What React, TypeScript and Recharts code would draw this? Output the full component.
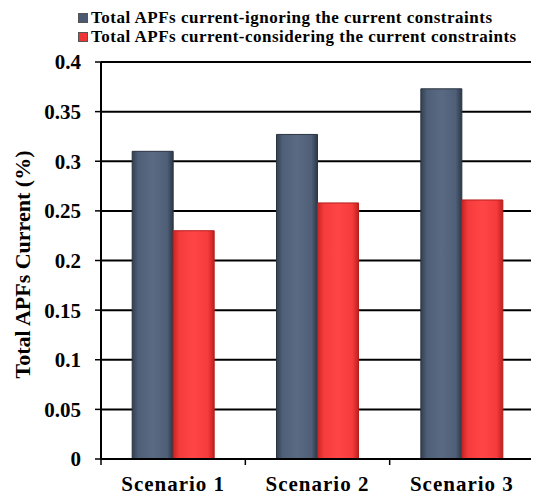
import { BarChart, Bar, XAxis, YAxis, CartesianGrid, Legend } from 'recharts';

const scenarios = ['Scenario 1', 'Scenario 2', 'Scenario 3'];
const ignoringValues = [0.31, 0.327, 0.373];
const consideringValues = [0.23, 0.258, 0.261];
const yTicks = [0, 0.05, 0.1, 0.15, 0.2, 0.25, 0.3, 0.35, 0.4];

const seriesNames = {
  ignoring: 'Total APFs current-ignoring the current constraints',
  considering: 'Total APFs current-considering the current constraints',
};

const data = scenarios.map((name, i) => ({
  name,
  ignoring: ignoringValues[i],
  considering: consideringValues[i],
}));

const FONT = '"Liberation Serif", "Times New Roman", serif';
const WIDTH = 531;
const HEIGHT = 488;
const MARGIN = { top: 0, right: 5, bottom: 7, left: 0 };
const Y_AXIS_WIDTH = 93;
const PLOT_WIDTH = WIDTH - MARGIN.left - MARGIN.right - Y_AXIS_WIDTH;
const BAND = PLOT_WIDTH / scenarios.length;

// x ticks sit on the category boundaries, not the centres
const ScenarioTick = (props: any) => {
  const { x, y, payload, index } = props;
  const axisY = y - 17;
  return (
    <g>
      <line x1={x - BAND / 2} x2={x - BAND / 2} y1={axisY} y2={axisY + 6} stroke="#000" strokeWidth={1.5} />
      {index === scenarios.length - 1 && (
        <line x1={x + BAND / 2} x2={x + BAND / 2} y1={axisY} y2={axisY + 6} stroke="#000" strokeWidth={1.5} />
      )}
      <text
        x={x}
        y={y}
        dy="0.71em"
        textAnchor="middle"
        fontFamily={FONT}
        fontWeight="bold"
        fontSize={21}
        letterSpacing={1}
        fill="#000"
      >
        {payload.value}
      </text>
    </g>
  );
};

const LegendContent = () => (
  <div
    style={{
      paddingLeft: 70,
      fontFamily: FONT,
      fontWeight: 'bold',
      fontSize: 17,
      letterSpacing: 0.5,
      lineHeight: '19px',
      color: '#000',
    }}
  >
    {[
      { key: 'ignoring', color: '#4b5a72' },
      { key: 'considering', color: '#ee3535' },
    ].map((item) => (
      <div key={item.key} style={{ display: 'flex', alignItems: 'center', whiteSpace: 'nowrap' }}>
        <span
          style={{
            display: 'inline-block',
            width: 8,
            height: 8,
            background: item.color,
            border: '1px solid #555',
            marginRight: 3,
          }}
        />
        {seriesNames[item.key as 'ignoring' | 'considering']}
      </div>
    ))}
  </div>
);

const App = () => {
  return (
    <div style={{ width: WIDTH, height: HEIGHT }}>
      <BarChart
        width={WIDTH}
        height={HEIGHT}
        data={data}
        margin={MARGIN}
        barCategoryGap="21.6%"
        barGap={0}
      >
        <defs>
          <linearGradient id="blueGrad" x1="0" y1="0" x2="1" y2="0">
            <stop offset="0%" stopColor="#33404f" />
            <stop offset="15%" stopColor="#4f5f78" />
            <stop offset="50%" stopColor="#5a6a83" />
            <stop offset="85%" stopColor="#4f5f78" />
            <stop offset="100%" stopColor="#2c3846" />
          </linearGradient>
          <linearGradient id="redGrad" x1="0" y1="0" x2="1" y2="0">
            <stop offset="0%" stopColor="#c82424" />
            <stop offset="15%" stopColor="#f53b3b" />
            <stop offset="50%" stopColor="#ff4545" />
            <stop offset="85%" stopColor="#f53b3b" />
            <stop offset="100%" stopColor="#c02020" />
          </linearGradient>
        </defs>
        <Legend
          verticalAlign="top"
          align="left"
          content={<LegendContent />}
          wrapperStyle={{ top: 0, left: 0, width: WIDTH, height: 54 }}
        />
        <CartesianGrid vertical={false} stroke="#000" strokeWidth={2} />
        <XAxis
          dataKey="name"
          axisLine={{ stroke: '#000', strokeWidth: 2 }}
          tickLine={false}
          tickSize={6}
          tickMargin={11}
          height={30}
          interval={0}
          tick={<ScenarioTick />}
        />
        <YAxis
          domain={[0, 0.4]}
          ticks={yTicks}
          width={Y_AXIS_WIDTH}
          axisLine={{ stroke: '#000', strokeWidth: 2 }}
          tickLine={{ stroke: '#000', strokeWidth: 1.5 }}
          tickSize={6}
          tickMargin={14}
          tick={{ fill: '#000', fontFamily: FONT, fontWeight: 'bold', fontSize: 21 }}
          label={{
            value: 'Total APFs Current (%)',
            angle: -90,
            position: 'insideLeft',
            offset: 14,
            dy: 4,
            style: { textAnchor: 'middle', fill: '#000', fontFamily: FONT, fontWeight: 'bold', fontSize: 22 },
          }}
        />
        <YAxis
          yAxisId="frame"
          orientation="right"
          domain={[0, 0.4]}
          width={0}
          tick={false}
          tickLine={false}
          axisLine={{ stroke: '#000', strokeWidth: 2 }}
        />
        <Bar
          dataKey="ignoring"
          name={seriesNames.ignoring}
          fill="url(#blueGrad)"
          stroke="#2a3442"
          strokeWidth={1}
          isAnimationActive={false}
        />
        <Bar
          dataKey="considering"
          name={seriesNames.considering}
          fill="url(#redGrad)"
          stroke="#b51e1e"
          strokeWidth={1}
          isAnimationActive={false}
        />
      </BarChart>
    </div>
  );
};

export default App;
